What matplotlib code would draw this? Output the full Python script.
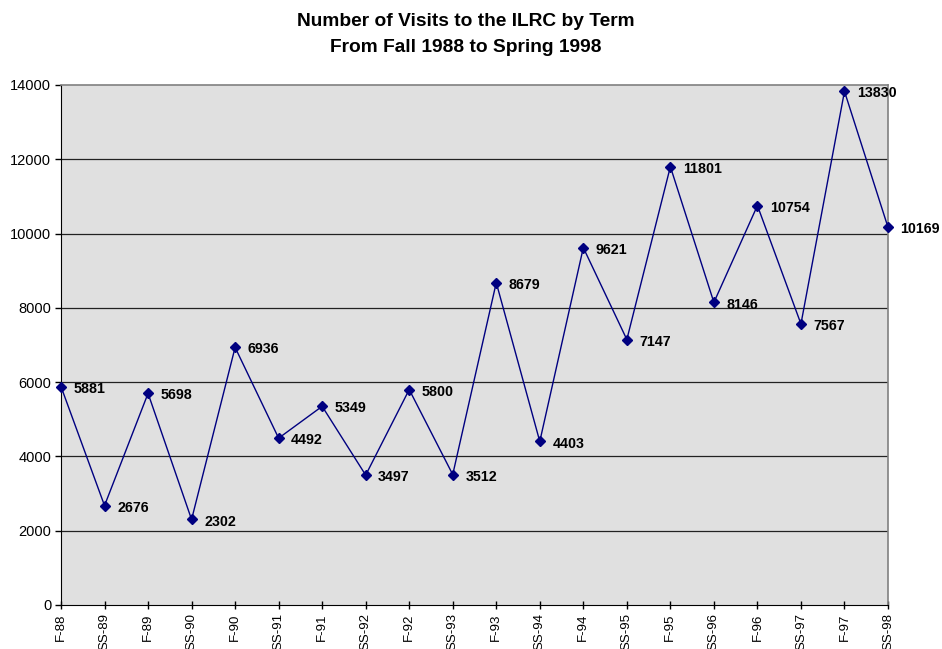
import matplotlib
matplotlib.use("Agg")
import matplotlib.pyplot as plt

terms = ["F-88", "SS-89", "F-89", "SS-90", "F-90", "SS-91", "F-91", "SS-92", "F-92", "SS-93",
         "F-93", "SS-94", "F-94", "SS-95", "F-95", "SS-96", "F-96", "SS-97", "F-97", "SS-98"]
visits = [5881, 2676, 5698, 2302, 6936, 4492, 5349, 3497, 5800, 3512,
          8679, 4403, 9621, 7147, 11801, 8146, 10754, 7567, 13830, 10169]
yticks = [0, 2000, 4000, 6000, 8000, 10000, 12000, 14000]

plt.rcParams['font.family'] = ['Liberation Sans', 'DejaVu Sans']

fig = plt.figure(figsize=(9.42, 6.49), dpi=100)
ax = fig.add_axes([61/942, 1 - 605/649, (888 - 61)/942, (605 - 85)/649])
ax.set_facecolor('#E0E0E0')

x = list(range(len(terms)))
ax.plot(x, visits, color='#000080', lw=1.0, marker='D', markersize=5,
        markerfacecolor='#000080', markeredgecolor='#000080', zorder=3, clip_on=False)
for xi, v in zip(x, visits):
    ax.annotate(str(v), (xi, v), xytext=(9, -1.5), textcoords='offset points',
                ha='left', va='center', fontsize=10.3, fontweight='bold',
                annotation_clip=False)

ax.set_xlim(0, len(terms) - 1)
ax.set_ylim(0, 14000)
ax.set_yticks(yticks)
ax.set_yticklabels([str(t) for t in yticks], fontsize=10.5)
ax.set_xticks(x)
ax.set_xticklabels(terms, rotation=90, fontsize=9.5)
ax.tick_params(axis='y', direction='out', length=4, width=1, pad=3)
ax.tick_params(axis='x', direction='inout', length=6, width=1, pad=3)

for t in yticks[1:-1]:
    ax.axhline(t, color='#222222', lw=0.9, zorder=1)

ax.spines['left'].set_color('black')
ax.spines['bottom'].set_color('black')
ax.spines['top'].set_color('#808080')
ax.spines['right'].set_color('#808080')
ax.spines['top'].set_linewidth(1.2)
ax.spines['right'].set_linewidth(1.2)

fig.text(466/942, 1 - 22/649, "Number of Visits to the ILRC by Term", ha='center', va='center',
         fontsize=13.8, fontweight='bold')
fig.text(466/942, 1 - 48/649, "From Fall 1988 to Spring 1998", ha='center', va='center',
         fontsize=13.8, fontweight='bold')

fig.savefig("out.png", dpi=100)
